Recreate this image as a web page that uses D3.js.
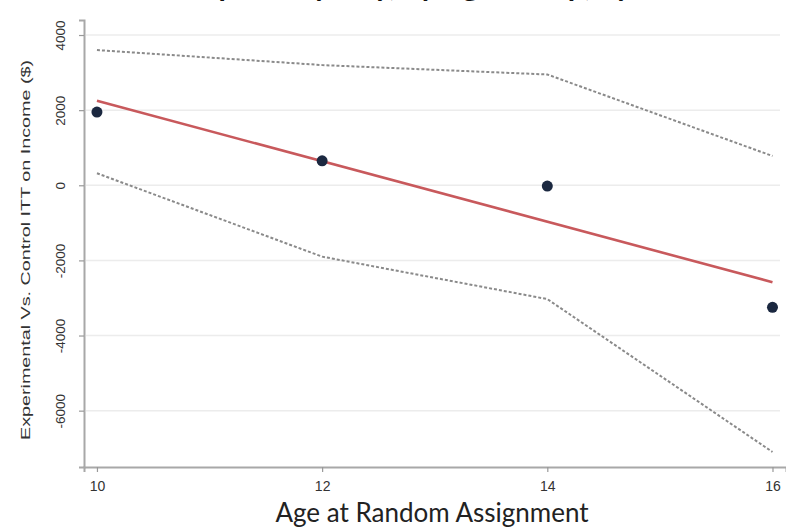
<!DOCTYPE html>
<html lang="en">
<head>
<meta charset="utf-8">
<title>ITT by age at random assignment</title>
<script src="https://cdn.jsdelivr.net/npm/d3@7"></script>
<style>
body { margin: 0; background: #fff; }
.tick text { font-family: "Liberation Sans", Arial, sans-serif; fill: #333; }
.ytitle { font-family: "Liberation Sans", Arial, sans-serif; font-size: 13px; fill: #333; }
.xtitle { font-family: Lato, "Open Sans", sans-serif; font-size: 26px; fill: #222; }
.title { font-family: Lato, "Open Sans", sans-serif; font-size: 30px; font-weight: bold; fill: #111; }
</style>
</head>
<body>
<script>
// data
var ages = [10, 12, 14, 16];
var ittPoints = [1950, 650, -20, -3250];
var fitValues = [2250, -2580];      // fitted line at age 10 and 16
var upperCI = [3600, 3200, 2950, 780];
var lowerCI = [320, -1900, -3030, -7100];
var yTicks = [4000, 2000, 0, -2000, -4000, -6000];
var xTicks = [10, 12, 14, 16];

var W = 786, H = 528;
var margin = {left: 84, right: 0, top: 20, bottom: 61};

var svg = d3.select("body").append("svg")
  .attr("width", W).attr("height", H);

var x = d3.scaleLinear().domain([9.885, 16.12]).range([margin.left, W - margin.right]);
var y = d3.scaleLinear().domain([-7500, 4400]).range([H - margin.bottom, margin.top]);

// title, cut off at the top edge (only descenders show)
svg.append("text")
  .attr("class", "title")
  .attr("x", 440).attr("y", -4)
  .attr("text-anchor", "middle")
  .text("Impacts by City, by Age Group, by Year");

// gridlines
svg.append("g").selectAll("line")
  .data(yTicks).enter().append("line")
  .attr("x1", margin.left + 2).attr("x2", W - 6)
  .attr("y1", function(d) { return y(d); })
  .attr("y2", function(d) { return y(d); })
  .attr("stroke", "#ececec").attr("stroke-width", 1.5);

// axes
var fmt = function(d) { return String(d); };

var yAxis = d3.axisLeft(y).tickValues(yTicks).tickFormat(fmt).tickSize(5);
var gy = svg.append("g")
  .attr("transform", "translate(" + margin.left + ",0)")
  .call(yAxis);
gy.selectAll(".tick text")
  .attr("font-size", 13.5)
  .attr("transform", "rotate(-90)")
  .attr("text-anchor", "middle")
  .attr("x", 0).attr("y", -24).attr("dy", "0.35em");

var xAxis = d3.axisBottom(x).tickValues(xTicks).tickFormat(fmt).tickSize(5).tickPadding(9);
var gx = svg.append("g")
  .attr("transform", "translate(0," + (H - margin.bottom) + ")")
  .call(xAxis);
gx.selectAll(".tick text").attr("font-size", 14);

svg.selectAll(".domain").attr("stroke", "#a8a8a8").attr("stroke-width", 2);
svg.selectAll(".tick line").attr("stroke", "#999").attr("stroke-width", 1.2);

// axis titles
svg.append("text")
  .attr("class", "ytitle")
  .attr("transform", "translate(30," + 250 + ") rotate(-90)")
  .attr("text-anchor", "middle")
  .attr("textLength", 380)
  .attr("lengthAdjust", "spacingAndGlyphs")
  .text("Experimental Vs. Control ITT on Income ($)");

svg.append("text")
  .attr("class", "xtitle")
  .attr("x", 432).attr("y", 522)
  .attr("text-anchor", "middle")
  .text("Age at Random Assignment");

// confidence bands
var line = d3.line()
  .x(function(d, i) { return x(ages[i]); })
  .y(function(d) { return y(d); });

[upperCI, lowerCI].forEach(function(ci) {
  svg.append("path")
    .datum(ci)
    .attr("d", line)
    .attr("fill", "none")
    .attr("stroke", "#8a8a8a")
    .attr("stroke-width", 2)
    .attr("stroke-dasharray", "3,2");
});

// fitted line
svg.append("path")
  .datum(fitValues)
  .attr("d", d3.line()
    .x(function(d, i) { return x(i === 0 ? ages[0] : ages[ages.length - 1]); })
    .y(function(d) { return y(d); }))
  .attr("fill", "none")
  .attr("stroke", "#c8595c")
  .attr("stroke-width", 2.6);

// points
svg.append("g").selectAll("circle")
  .data(ittPoints).enter().append("circle")
  .attr("cx", function(d, i) { return x(ages[i]); })
  .attr("cy", function(d) { return y(d); })
  .attr("r", 5.5)
  .attr("fill", "#1b2840");
</script>
</body>
</html>
